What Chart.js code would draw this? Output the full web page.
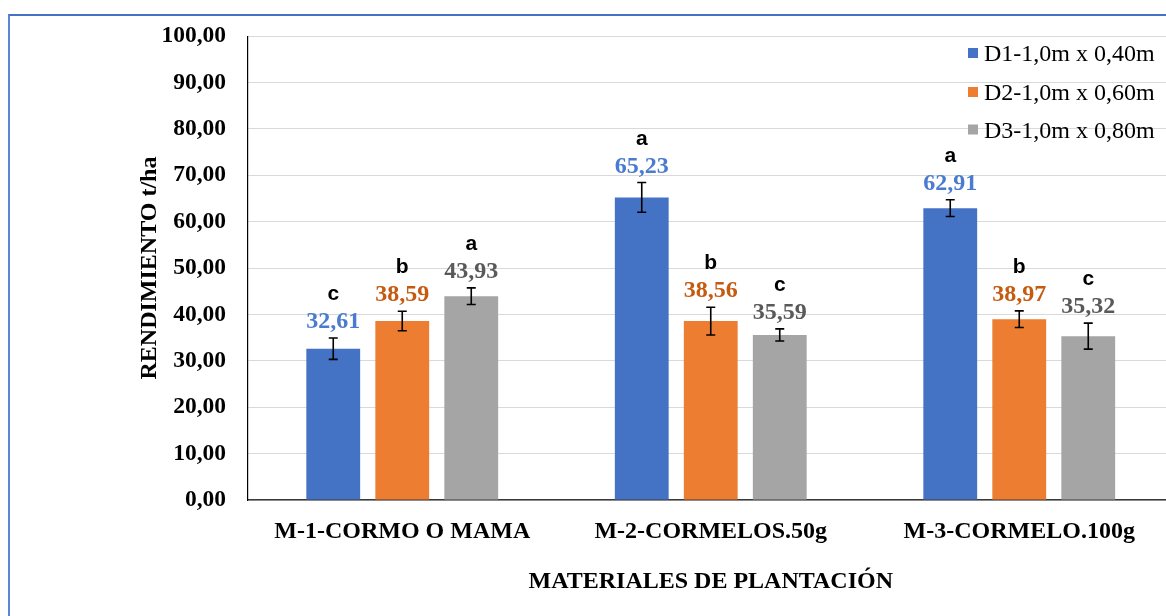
<!DOCTYPE html>
<html>
<head>
<meta charset="utf-8">
<script src="https://cdn.jsdelivr.net/npm/chart.js@4.4.1/dist/chart.umd.min.js"></script>
<style>
  html, body { margin: 0; padding: 0; background: #fff; overflow: hidden; width: 1166px; height: 616px; }
  #wrap { position: absolute; left: 0; top: 0; width: 1180px; height: 616px; }
  #frame { position: absolute; left: 8px; top: 14px; width: 1200px; height: 700px;
           border-top: 2px solid #4472C4; border-left: 2px solid #5B86D6; pointer-events: none; }
</style>
</head>
<body>
<div id="wrap"><canvas id="c" width="1180" height="616"></canvas></div>
<div id="frame"></div>
<script>
// ---- data ----
const categories = ['M-1-CORMO O MAMA', 'M-2-CORMELOS.50g', 'M-3-CORMELO.100g'];
const seriesNames = ['D1-1,0m x 0,40m', 'D2-1,0m x 0,60m', 'D3-1,0m x 0,80m'];
const d1Values = [32.61, 65.23, 62.91];
const d2Values = [38.59, 38.56, 38.97];
const d3Values = [43.93, 35.59, 35.32];
const d1Errors = [2.3, 3.2, 1.8];
const d2Errors = [2.1, 3.0, 1.8];
const d3Errors = [1.8, 1.3, 2.8];
const d1Letters = ['c', 'a', 'a'];
const d2Letters = ['b', 'b', 'b'];
const d3Letters = ['a', 'c', 'c'];
const yTickMin = 0, yTickMax = 100, yTickStep = 10;

const barColors = ['#4472C4', '#ED7D31', '#A5A5A5'];
const labelColors = ['#4A7BD0', '#C55A11', '#595959'];
const errors = [d1Errors, d2Errors, d3Errors];
const letters = [d1Letters, d2Letters, d3Letters];
const fmt = v => v.toFixed(2).replace('.', ',');

const serif = '"Liberation Serif", "Times New Roman", serif';

const annotPlugin = {
  id: 'annot',
  afterDatasetsDraw(chart) {
    const ctx = chart.ctx;
    const ys = chart.scales.y;
    chart.data.datasets.forEach((ds, di) => {
      const meta = chart.getDatasetMeta(di);
      meta.data.forEach((bar, i) => {
        const v = ds.data[i], e = errors[di][i];
        const yt = ys.getPixelForValue(v + e);
        const yb = ys.getPixelForValue(v - e);
        ctx.save();
        ctx.strokeStyle = '#000';
        ctx.lineWidth = 1.6;
        ctx.beginPath();
        ctx.moveTo(bar.x, yt); ctx.lineTo(bar.x, yb);
        ctx.moveTo(bar.x - 4.5, yt); ctx.lineTo(bar.x + 4.5, yt);
        ctx.moveTo(bar.x - 4.5, yb); ctx.lineTo(bar.x + 4.5, yb);
        ctx.stroke();
        ctx.textAlign = 'center';
        ctx.textBaseline = 'alphabetic';
        ctx.font = 'bold 24px ' + serif;
        ctx.fillStyle = labelColors[di];
        const vb = yt - 10;
        ctx.fillText(fmt(v), bar.x, vb);
        ctx.font = 'bold 21px "Liberation Sans", Arial, sans-serif';
        ctx.fillStyle = '#000';
        ctx.fillText(letters[di][i], bar.x, vb - 28);
        ctx.restore();
      });
    });
  },
  afterDraw(chart) {
    const ctx = chart.ctx;
    const baselines = [61, 100, 137.5];
    ctx.save();
    chart.data.datasets.forEach((ds, di) => {
      ctx.fillStyle = ds.backgroundColor;
      ctx.fillRect(968, baselines[di] - 13, 10, 10);
      ctx.fillStyle = '#000';
      ctx.font = '24px ' + serif;
      ctx.textAlign = 'left';
      ctx.textBaseline = 'alphabetic';
      ctx.fillText(ds.label, 984, baselines[di]);
    });
    ctx.restore();
  }
};

new Chart(document.getElementById('c'), {
  type: 'bar',
  data: {
    labels: categories,
    datasets: [
      { label: seriesNames[0], data: d1Values, backgroundColor: barColors[0] },
      { label: seriesNames[1], data: d2Values, backgroundColor: barColors[1] },
      { label: seriesNames[2], data: d3Values, backgroundColor: barColors[2] }
    ]
  },
  options: {
    responsive: false,
    animation: false,
    devicePixelRatio: 1,
    categoryPercentage: 0.671,
    barPercentage: 0.78,
    layout: { padding: { top: 27, left: 0, right: 6.5, bottom: 0 } },
    plugins: { legend: { display: false }, tooltip: { enabled: false } },
    scales: {
      x: {
        grid: { display: false, drawTicks: false },
        border: { display: true, color: '#3a3a3a', width: 1.5 },
        ticks: { color: '#000', padding: 17, maxRotation: 0, autoSkip: false,
                 font: { family: serif, size: 24, weight: 'bold' } },
        title: { display: true, text: 'MATERIALES DE PLANTACIÓN', color: '#000',
                 font: { family: serif, size: 24, weight: 'bold' }, padding: { top: 0, bottom: 20 } },
        afterFit: s => { s.height = 116; }
      },
      y: {
        min: yTickMin, max: yTickMax,
        grid: { color: '#d9d9d9', lineWidth: 1, drawTicks: false },
        border: { display: true, color: '#000', width: 1.2 },
        ticks: { stepSize: yTickStep, color: '#000', padding: 22,
                 font: { family: serif, size: 23.5, weight: 'bold' },
                 callback: v => fmt(v) },
        title: { display: true, text: 'RENDIMIENTO t/ha', color: '#000',
                 font: { family: serif, size: 24, weight: 'bold' }, padding: { top: 135.5, bottom: 0 } },
        afterFit: s => { s.width = 248; }
      }
    }
  },
  plugins: [annotPlugin]
});
</script>
</body>
</html>
